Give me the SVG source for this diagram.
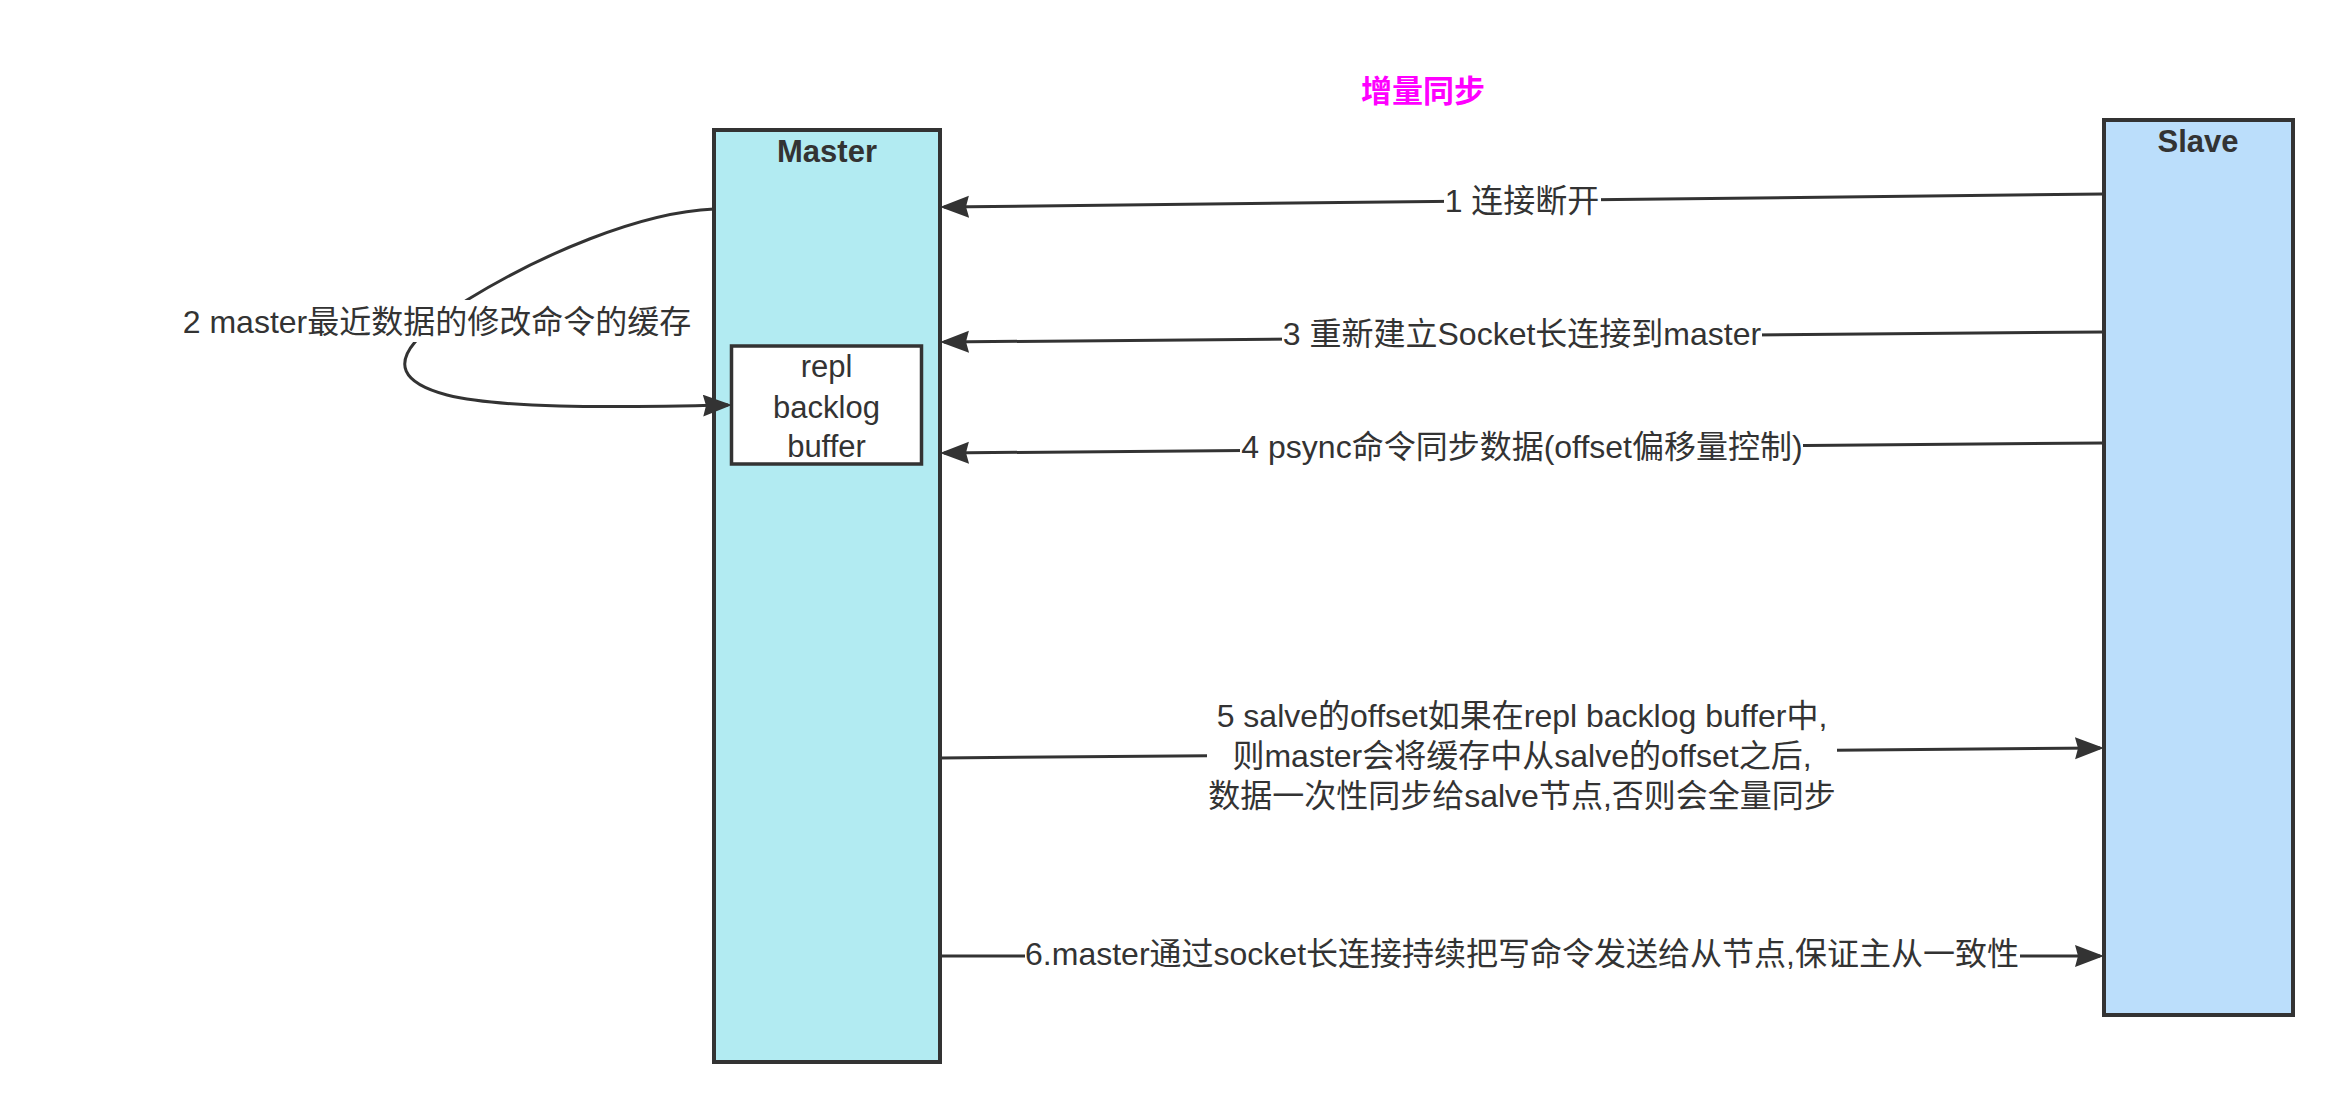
<svg xmlns="http://www.w3.org/2000/svg" width="2344" height="1112" viewBox="0 0 2344 1112">
<style>
text{font-family:"Liberation Sans","Noto Sans CJK SC",sans-serif;fill:#333333;text-anchor:middle}
.node{stroke:#333333;stroke-width:4}
.lbl{font-size:32px}
.nlbl{font-size:31px}
.bold{font-weight:bold}
.edge{fill:none;stroke:#333333;stroke-width:3}
.bg{fill:#ffffff;stroke:none}
</style>
<defs>
<marker id="arr" markerUnits="userSpaceOnUse" markerWidth="30" markerHeight="23" refX="25" refY="11" orient="auto">
<path d="M0,0 L29,11 L0,22 L3,11 Z" fill="#333333"/>
</marker>
</defs>
<rect width="2344" height="1112" fill="#ffffff"/>
<g id="title">
<text x="1423" y="102" class="nlbl bold" style="fill:#ff00ff">增量同步</text>
</g>
<g id="master">
<rect x="714" y="130" width="226" height="932" class="node" fill="#b2ebf2"/>
<text x="827" y="162" class="nlbl bold">Master</text>
</g>
<g id="slave">
<rect x="2104" y="120" width="189" height="895" class="node" fill="#bbdefb"/>
<text x="2198" y="152" class="nlbl bold">Slave</text>
</g>
<g id="buffer">
<rect x="731.5" y="346" width="190" height="118" fill="#ffffff" stroke="#333333" stroke-width="3.5"/>
<text x="826.5" y="377" class="nlbl">repl</text>
<text x="826.5" y="418" class="nlbl">backlog</text>
<text x="826.5" y="457" class="nlbl">buffer</text>
</g>
<g id="connectors">
<path class="edge" marker-end="url(#arr)" d="M2104,194 L944,207"/>
<path class="edge" marker-end="url(#arr)" d="M714,209 C640,212 540,255 467,300 C445,314 425,330 415,342 C398,362 398,382 447,395 C500,408 600,408 728,405"/>
<path class="edge" marker-end="url(#arr)" d="M2104,332 L944,342"/>
<path class="edge" marker-end="url(#arr)" d="M2104,443 L944,453"/>
<path class="edge" marker-end="url(#arr)" d="M940,758 L2100,748"/>
<path class="edge" marker-end="url(#arr)" d="M940,956 L2100,956"/>
<g id="edge-labels">
<rect class="bg" x="1444" y="184" width="157" height="34"/>
<text x="1522" y="212" class="lbl">1 连接断开</text>
<rect class="bg" x="181" y="300" width="512" height="42"/>
<text x="437" y="333" class="lbl">2 master最近数据的修改命令的缓存</text>
<rect class="bg" x="1282" y="318" width="480" height="34"/>
<text x="1522" y="345" class="lbl">3 重新建立Socket长连接到master</text>
<rect class="bg" x="1240" y="430" width="563" height="36"/>
<text x="1522" y="458" class="lbl">4 psync命令同步数据(offset偏移量控制)</text>
<rect class="bg" x="1207" y="695" width="630" height="122"/>
<text x="1522" y="727" class="lbl">5 salve的offset如果在repl backlog buffer中,</text>
<text x="1522" y="767" class="lbl">则master会将缓存中从salve的offset之后,</text>
<text x="1522" y="807" class="lbl">数据一次性同步给salve节点,否则会全量同步</text>
<rect class="bg" x="1025" y="938" width="995" height="36"/>
<text x="1522" y="965" class="lbl">6.master通过socket长连接持续把写命令发送给从节点,保证主从一致性</text>
</g>
</g>
</svg>
